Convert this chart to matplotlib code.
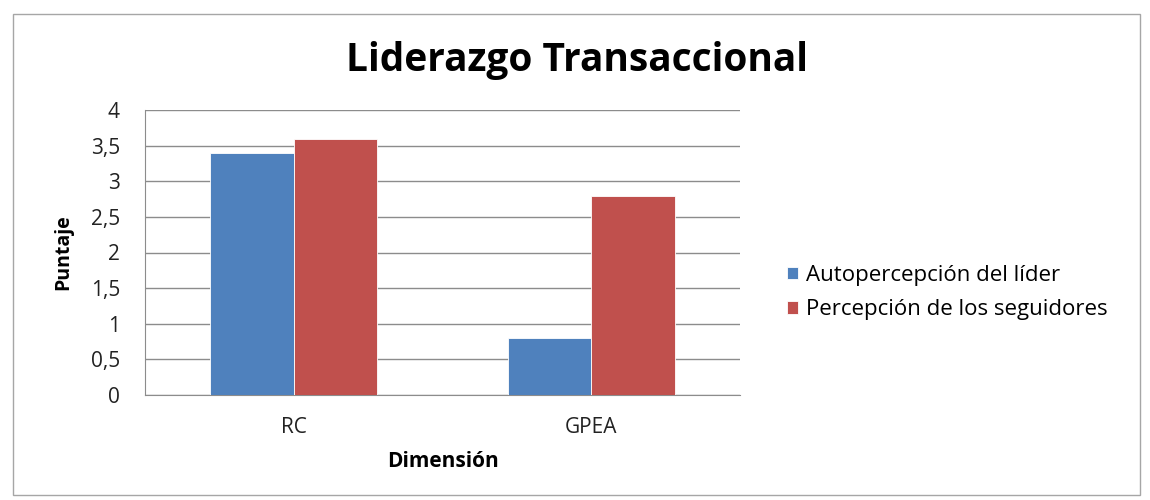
import numpy as np
import matplotlib.pyplot as plt
from matplotlib.patches import Rectangle

# datos
categorias = ['RC', 'GPEA']
series = ['Autopercepción del líder', 'Percepción de los seguidores']
autopercepcion = [3.4, 0.8]
seguidores = [3.6, 2.8]
yticks = [0, 0.5, 1, 1.5, 2, 2.5, 3, 3.5, 4]
ytick_labels = ['0', '0,5', '1', '1,5', '2', '2,5', '3', '3,5', '4']

plt.rcParams['font.family'] = ['Open Sans', 'DejaVu Sans']

fig = plt.figure(figsize=(11.5, 5), dpi=100)

# marco exterior del gráfico
fig.patches.append(Rectangle((13 / 1150, 5 / 500), 1127 / 1150, 481 / 500,
                             transform=fig.transFigure, fill=False,
                             edgecolor='#a6a6a6', lw=1))

ax = fig.add_axes([145 / 1150, 105 / 500, 595 / 1150, 285 / 500])

x = np.arange(len(categorias))
w = 0.28
ax.bar(x - w / 2, autopercepcion, w, color='#4F81BD', edgecolor='white',
       lw=0.6, label=series[0], zorder=3)
ax.bar(x + w / 2, seguidores, w, color='#C0504D', edgecolor='white',
       lw=0.6, label=series[1], zorder=3)

ax.set_xlim(-0.5, 1.5)
ax.set_ylim(0, 4)
ax.set_yticks(yticks)
ax.set_yticklabels(ytick_labels)
ax.set_xticks(x)
ax.set_xticklabels(categorias)
ax.tick_params(axis='both', length=0, labelsize=15, colors='#222222')
ax.tick_params(axis='y', pad=18)
ax.tick_params(axis='x', pad=16)
ax.grid(axis='y', color='#8c8c8c', lw=1, zorder=0)

for s in ['top', 'right']:
    ax.spines[s].set_visible(False)
ax.spines['left'].set_color('#8c8c8c')
ax.spines['bottom'].set_color('#8c8c8c')

ax.set_ylabel('Puntaje', fontsize=14, fontweight='bold', va='center')
ax.yaxis.set_label_coords(-0.138, 0.5)
ax.set_xlabel('Dimensión', fontsize=15, fontweight='bold', va='center')
ax.xaxis.set_label_coords(0.5, -0.232)

fig.text(0.502, 0.878, 'Liderazgo Transaccional', ha='center', va='center',
         fontsize=28, fontweight='bold')

ax.legend(loc='center left', bbox_to_anchor=(1.045, 0.36), frameon=False,
          fontsize=16, handlelength=0.5, handleheight=0.5,
          handletextpad=0.35, labelspacing=0.6)

fig.savefig('out.png', dpi=100)
